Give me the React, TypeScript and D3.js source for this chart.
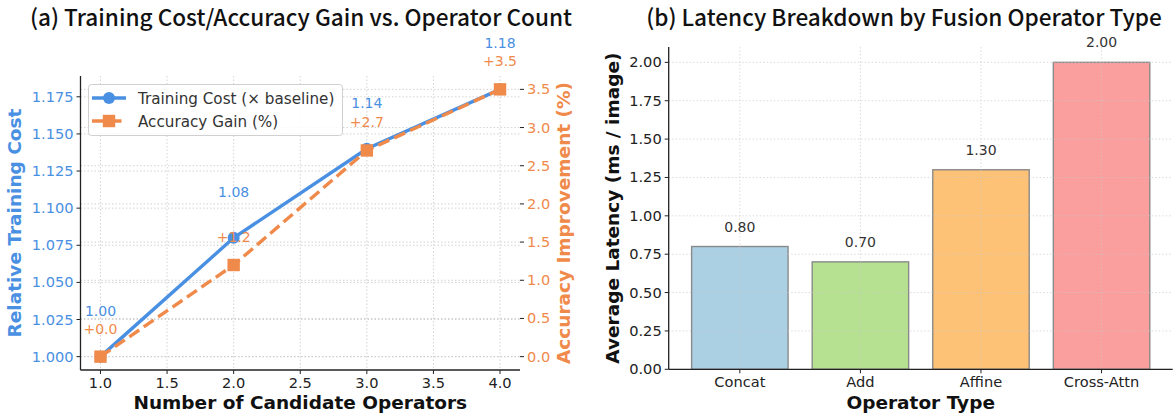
import React from "react";
import * as d3 from "d3";

// panel (a) data
const operatorCounts = [1, 2, 3, 4];
const trainingCost = [1.0, 1.08, 1.14, 1.18];
const accuracyGain = [0.0, 1.2, 2.7, 3.5];
const countTicks = [1.0, 1.5, 2.0, 2.5, 3.0, 3.5, 4.0];
const costTicks = [1.0, 1.025, 1.05, 1.075, 1.1, 1.125, 1.15, 1.175];
const gainTicks = [0, 0.5, 1.0, 1.5, 2.0, 2.5, 3.0, 3.5];

// panel (b) data
const fusionOps = ["Concat", "Add", "Affine", "Cross-Attn"];
const latency = [0.8, 0.7, 1.3, 2.0];
const latencyTicks = [0, 0.25, 0.5, 0.75, 1.0, 1.25, 1.5, 1.75, 2.0];

const BLUE = "#4a90e2";
const ORANGE = "#f08a4b";
const FONT = "'DejaVu Sans', sans-serif";
const TITLE_FONT = "'Noto Sans CJK SC', 'Noto Sans', sans-serif";
const GRID = "#c8c8c8";
const TICK_SIZE = 14.6;
const LABEL_SIZE = 18.5;
const TITLE_SIZE = 22.6;

function CostPanel() {
  const left = 80.5, right = 520, top = 76, bottom = 370;
  const x = d3.scaleLinear().domain([0.85, 4.15]).range([left, right]);
  const yCost = d3.scaleLinear().domain([0.991, 1.189]).range([bottom, top]);
  const yGain = d3.scaleLinear().domain([-0.175, 3.675]).range([bottom, top]);

  const costLine = d3
    .line<number>()
    .x((_, i) => x(operatorCounts[i]))
    .y((d) => yCost(d));
  const gainLine = d3
    .line<number>()
    .x((_, i) => x(operatorCounts[i]))
    .y((d) => yGain(d));

  return (
    <g>
      <text x={301} y={26} textAnchor="middle" fontFamily={TITLE_FONT} fontWeight={500} fontSize={TITLE_SIZE} fill="#111">
        (a) Training Cost/Accuracy Gain vs. Operator Count
      </text>

      {/* grid */}
      {countTicks.map((t) => (
        <line key={"vx" + t} x1={x(t)} x2={x(t)} y1={top} y2={bottom} stroke={GRID} strokeWidth={0.8} strokeDasharray="1.5,2" />
      ))}
      {costTicks.map((t) => (
        <line key={"hc" + t} x1={left} x2={right} y1={yCost(t)} y2={yCost(t)} stroke={GRID} strokeWidth={0.8} strokeDasharray="1.5,2" />
      ))}
      {gainTicks.map((t) => (
        <line key={"hg" + t} x1={left} x2={right} y1={yGain(t)} y2={yGain(t)} stroke={GRID} strokeWidth={0.8} strokeDasharray="1.5,2" />
      ))}

      {/* spines */}
      <line x1={left} x2={left} y1={top} y2={bottom} stroke="#222" strokeWidth={1.3} />
      <line x1={left} x2={right} y1={bottom} y2={bottom} stroke="#222" strokeWidth={1.3} />

      {/* x ticks */}
      {countTicks.map((t) => (
        <g key={"xt" + t}>
          <line x1={x(t)} x2={x(t)} y1={bottom} y2={bottom + 4} stroke="#222" />
          <text x={x(t)} y={bottom + 18} textAnchor="middle" fontFamily={FONT} fontSize={TICK_SIZE} fill="#222">
            {t.toFixed(1)}
          </text>
        </g>
      ))}
      <text x={(left + right) / 2} y={409} textAnchor="middle" fontFamily={FONT} fontSize={LABEL_SIZE} fontWeight="bold" fill="#111">
        Number of Candidate Operators
      </text>

      {/* left y ticks */}
      {costTicks.map((t) => (
        <g key={"yc" + t}>
          <line x1={left - 4} x2={left} y1={yCost(t)} y2={yCost(t)} stroke="#222" />
          <text x={left - 7} y={yCost(t) + 5} textAnchor="end" fontFamily={FONT} fontSize={TICK_SIZE} fill={BLUE}>
            {t.toFixed(3)}
          </text>
        </g>
      ))}
      <text transform={`translate(21 ${(top + bottom) / 2}) rotate(-90)`} textAnchor="middle" fontFamily={FONT} fontSize={LABEL_SIZE} fontWeight="bold" fill={BLUE}>
        Relative Training Cost
      </text>

      {/* right y ticks */}
      {gainTicks.map((t) => (
        <g key={"yg" + t}>
          <line x1={right} x2={right + 4} y1={yGain(t)} y2={yGain(t)} stroke="#222" />
          <text x={right + 7} y={yGain(t) + 5} textAnchor="start" fontFamily={FONT} fontSize={TICK_SIZE} fill={ORANGE}>
            {t.toFixed(1)}
          </text>
        </g>
      ))}
      <text transform={`translate(570 ${(top + bottom) / 2}) rotate(-90)`} textAnchor="middle" fontFamily={FONT} fontSize={LABEL_SIZE} fontWeight="bold" fill={ORANGE}>
        Accuracy Improvement (%)
      </text>

      {/* series */}
      <path d={costLine(trainingCost) || ""} fill="none" stroke={BLUE} strokeWidth={3.4} />
      {trainingCost.map((v, i) => (
        <circle key={"c" + i} cx={x(operatorCounts[i])} cy={yCost(v)} r={6} fill={BLUE} />
      ))}
      <path d={gainLine(accuracyGain) || ""} fill="none" stroke={ORANGE} strokeWidth={3.4} strokeDasharray="12,5.5" />
      {accuracyGain.map((v, i) => (
        <rect key={"s" + i} x={x(operatorCounts[i]) - 6.2} y={yGain(v) - 6.2} width={12.4} height={12.4} fill={ORANGE} />
      ))}

      {/* annotations */}
      {trainingCost.map((v, i) => (
        <text key={"ac" + i} x={x(operatorCounts[i])} y={yCost(v) - 41} textAnchor="middle" fontFamily={FONT} fontSize={14} fill={BLUE}>
          {v.toFixed(2)}
        </text>
      ))}
      {accuracyGain.map((v, i) => (
        <text key={"ag" + i} x={x(operatorCounts[i])} y={yGain(v) - 23} textAnchor="middle" fontFamily={FONT} fontSize={14} fill={ORANGE}>
          {"+" + v.toFixed(1)}
        </text>
      ))}

      {/* legend */}
      <rect x={88.5} y={84.5} width={254} height={51} rx={3} fill="#fff" fillOpacity={0.85} stroke="#d0d0d0" />
      <line x1={92} x2={126} y1={98} y2={98} stroke={BLUE} strokeWidth={3.4} />
      <circle cx={109} cy={98} r={6} fill={BLUE} />
      <text x={138} y={103.5} fontFamily={FONT} fontSize={15.2} fill="#333">
        Training Cost (× baseline)
      </text>
      <line x1={92} x2={126} y1={121} y2={121} stroke={ORANGE} strokeWidth={3.4} strokeDasharray="12,5.5" />
      <rect x={109 - 6.2} y={121 - 6.2} width={12.4} height={12.4} fill={ORANGE} />
      <text x={138} y={126.5} fontFamily={FONT} fontSize={15.2} fill="#333">
        Accuracy Gain (%)
      </text>
    </g>
  );
}

function LatencyPanel() {
  const left = 668.7, right = 1172.7, top = 47, bottom = 369.3;
  const x = d3.scaleBand<string>().domain(fusionOps).range([left, right]).paddingInner(0.2).paddingOuter(0.19);
  const bw = x.bandwidth();
  const y = d3.scaleLinear().domain([0, 2.1]).range([bottom, top]);
  const color = d3.scaleOrdinal<string, string>().domain(fusionOps).range(["#a6cee3", "#b2df8a", "#fdbf6f", "#fb9a99"]);
  const cx = (op: string) => (x(op) || 0) + bw / 2;

  return (
    <g>
      <text x={904} y={26} textAnchor="middle" fontFamily={TITLE_FONT} fontWeight={500} fontSize={TITLE_SIZE} fill="#111">
        (b) Latency Breakdown by Fusion Operator Type
      </text>

      {/* bars */}
      {fusionOps.map((op, i) => (
        <rect key={op} x={x(op)} y={y(latency[i])} width={bw} height={bottom - y(latency[i])} fill={color(op)} fillOpacity={0.95} stroke="#8a8a8a" strokeWidth={1.4} />
      ))}

      {/* grid */}
      {fusionOps.map((op) => (
        <line key={"vg" + op} x1={cx(op)} x2={cx(op)} y1={top} y2={bottom} stroke={GRID} strokeOpacity={0.8} strokeWidth={0.8} strokeDasharray="1.5,2" />
      ))}
      {latencyTicks.map((t) => (
        <line key={"hg" + t} x1={left} x2={right} y1={y(t)} y2={y(t)} stroke={GRID} strokeOpacity={0.8} strokeWidth={0.8} strokeDasharray="1.5,2" />
      ))}

      {/* value labels */}
      {fusionOps.map((op, i) => (
        <text key={"v" + op} x={cx(op)} y={y(latency[i]) - 15} textAnchor="middle" fontFamily={FONT} fontSize={14} fill="#333">
          {latency[i].toFixed(2)}
        </text>
      ))}

      {/* spines */}
      <line x1={left} x2={left} y1={top} y2={bottom} stroke="#222" strokeWidth={1.3} />
      <line x1={left} x2={right} y1={bottom} y2={bottom} stroke="#222" strokeWidth={1.3} />

      {fusionOps.map((op) => (
        <g key={"xt" + op}>
          <line x1={cx(op)} x2={cx(op)} y1={bottom} y2={bottom + 4} stroke="#222" />
          <text x={cx(op)} y={bottom + 18} textAnchor="middle" fontFamily={FONT} fontSize={TICK_SIZE} fill="#222">
            {op}
          </text>
        </g>
      ))}
      <text x={(left + right) / 2} y={409} textAnchor="middle" fontFamily={FONT} fontSize={LABEL_SIZE} fontWeight="bold" fill="#111">
        Operator Type
      </text>

      {latencyTicks.map((t) => (
        <g key={"yt" + t}>
          <line x1={left - 4} x2={left} y1={y(t)} y2={y(t)} stroke="#222" />
          <text x={left - 7} y={y(t) + 5} textAnchor="end" fontFamily={FONT} fontSize={TICK_SIZE} fill="#222">
            {t.toFixed(2)}
          </text>
        </g>
      ))}
      <text transform={`translate(619 ${(top + bottom) / 2}) rotate(-90)`} textAnchor="middle" fontFamily={FONT} fontSize={LABEL_SIZE} fontWeight="bold" fill="#111">
        Average Latency (ms / image)
      </text>
    </g>
  );
}

export default function App() {
  return (
    <svg width={1176} height={416} style={{ position: "absolute", left: 0, top: 0, background: "#fff" }}>
      <rect width={1176} height={416} fill="#fff" />
      <CostPanel />
      <LatencyPanel />
    </svg>
  );
}
